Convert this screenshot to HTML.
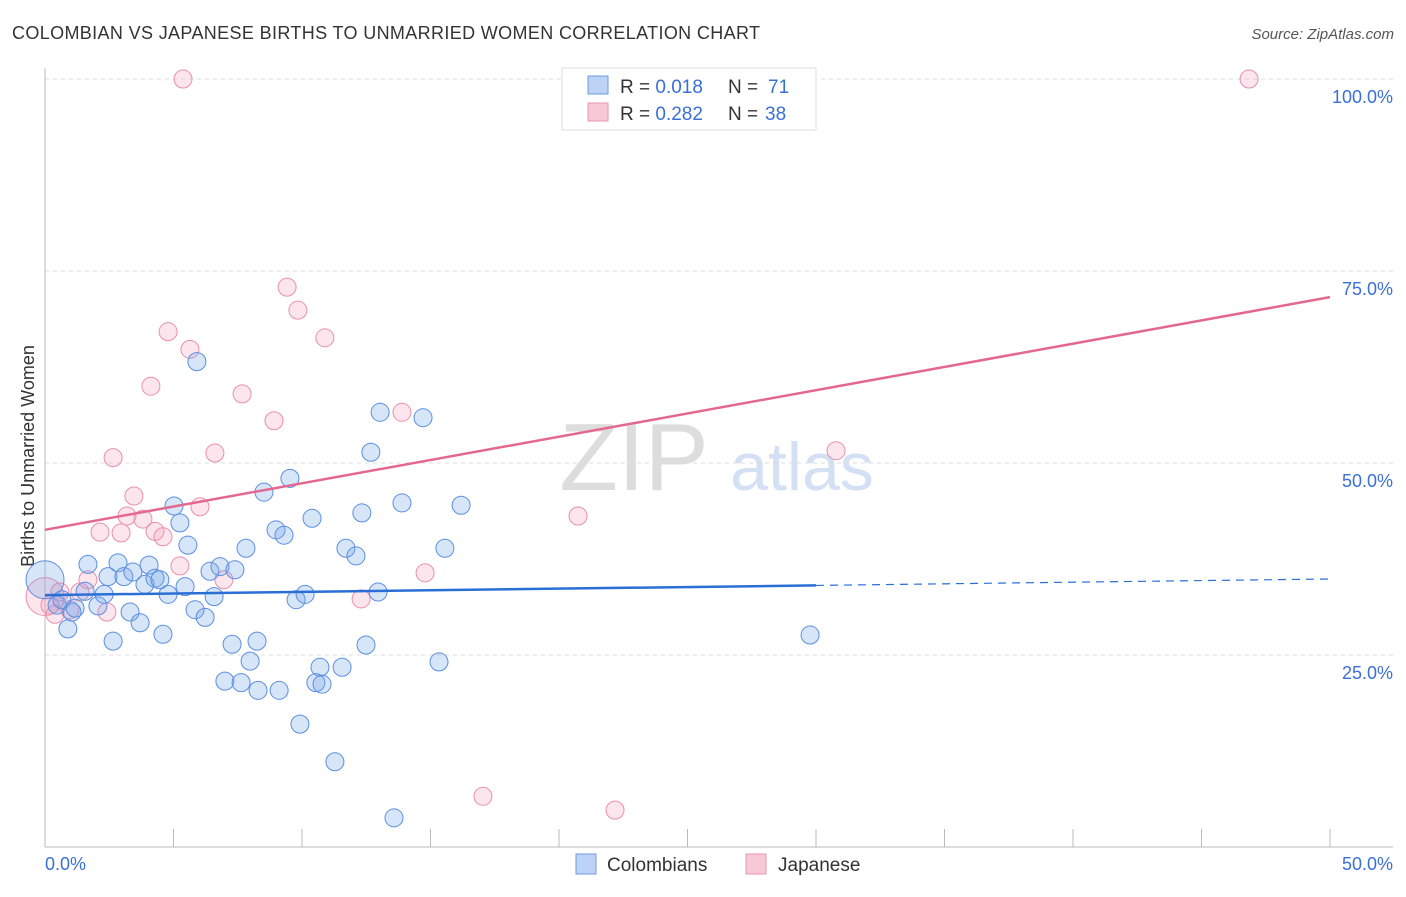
<!DOCTYPE html>
<html><head><meta charset="utf-8"><style>
body{margin:0;background:#fff;font-family:"Liberation Sans",sans-serif;}
svg text{font-family:"Liberation Sans",sans-serif;}
</style></head><body>
<svg width="1406" height="892" id="chart">
<text x="12" y="39" font-size="18" fill="#333" textLength="748">COLOMBIAN VS JAPANESE BIRTHS TO UNMARRIED WOMEN CORRELATION CHART</text>
<text x="1394" y="39" font-size="15" fill="#555" font-style="italic" text-anchor="end">Source: ZipAtlas.com</text>
<text x="634" y="490" font-size="96" fill="#ddd" font-family="Liberation Serif" text-anchor="middle">ZIP</text>
<text x="802" y="490" font-size="68" fill="#d4e0f4" text-anchor="middle">atlas</text>
<text transform="translate(34,456) rotate(-90)" font-size="18" fill="#333" text-anchor="middle">Births to Unmarried Women</text>
<g id="grid"></g><g id="marks"></g>
<g>
<rect x="562" y="68" width="254" height="62" fill="#fff" stroke="#ddd"/>
<rect x="588" y="76" width="20" height="18" fill="#bcd3f5" stroke="#6d9be0"/>
<rect x="588" y="103" width="20" height="18" fill="#f9c8d6" stroke="#eb94b0"/>
<text x="620" y="93" font-size="19" fill="#333">R = <tspan fill="#3a6fd8">0.018</tspan><tspan x="728">N = </tspan><tspan x="768" fill="#3a6fd8">71</tspan></text>
<text x="620" y="120" font-size="19" fill="#333">R = <tspan fill="#3a6fd8">0.282</tspan><tspan x="728">N = </tspan><tspan x="765" fill="#3a6fd8">38</tspan></text>
</g>
<g>
<rect x="576" y="854" width="20" height="20" fill="#bcd3f5" stroke="#6d9be0"/>
<text x="607" y="871" font-size="19" fill="#333">Colombians</text>
<rect x="746" y="854" width="20" height="20" fill="#f9c8d6" stroke="#eb94b0"/>
<text x="778" y="871" font-size="19" fill="#333">Japanese</text>
</g>
</svg>
<script>
const yTicks=[25,50,75,100];
const yTickLabels=["25.0%","50.0%","75.0%","100.0%"];
const xTicks=[0,5,10,15,20,25,30,35,40,45,50];
const blueX=[0,0.47,0.66,0.89,1.05,1.17,1.56,1.67,2.06,2.30,2.45,2.65,2.84,3.07,3.31,3.42,3.70,3.89,4.05,4.28,4.47,4.59,4.79,5.02,5.25,5.45,5.56,5.84,5.91,6.23,6.42,6.58,6.81,7.00,7.28,7.39,7.63,7.82,7.98,8.25,8.29,8.52,8.99,9.11,9.30,9.53,9.77,9.92,10.12,10.39,10.70,10.54,10.78,11.28,11.56,11.71,12.10,12.33,12.49,12.68,12.96,13.04,13.58,13.89,14.71,15.33,15.56,16.19,29.77];
const blueY=[34.8,31.5,32.2,28.4,30.6,31.1,33.3,36.8,31.4,32.9,35.2,26.8,37.0,35.2,30.6,35.8,29.2,34.2,36.7,35.0,34.8,27.7,32.9,44.4,42.2,33.9,39.3,30.9,63.2,29.9,35.9,32.6,36.5,21.6,26.4,36.1,21.4,38.9,24.2,26.8,20.4,46.2,41.3,20.4,40.6,48.0,32.2,16.0,32.9,42.8,23.4,21.4,21.2,11.1,23.4,38.9,37.9,43.5,26.3,51.4,33.2,56.6,3.8,44.8,55.9,24.1,38.9,44.5,27.6];
const pinkX=[0,0.19,0.39,0.58,0.97,1.36,1.67,2.14,2.41,2.65,2.96,3.19,3.46,3.81,4.12,4.28,4.59,4.79,5.25,5.37,5.64,6.03,6.61,6.96,7.67,8.91,9.42,9.84,10.89,12.30,13.89,14.79,17.04,20.74,22.18,30.78,46.85];
const pinkY=[32.6,31.5,30.3,33.2,30.9,33.2,34.8,41.0,30.6,50.7,40.9,43.1,45.7,42.7,60.0,41.1,40.4,67.1,36.6,100,64.8,44.3,51.3,34.8,59.0,55.5,72.9,69.9,66.3,32.3,56.6,35.7,6.6,43.1,4.8,51.6,100];
const blueTrend=[32.8,34.9];
const pinkTrend=[41.3,71.6];
const X0=45,X1=1330,Y0=847,Y100=79;
const sx=v=>X0+(X1-X0)*v/50;
const sy=v=>Y0-(Y0-Y100)*v/100;
const NS="http://www.w3.org/2000/svg";
function mk(t,a,p){const e=document.createElementNS(NS,t);for(const k in a)e.setAttribute(k,a[k]);p.appendChild(e);return e;}
const grid=document.getElementById('grid'),marks=document.getElementById('marks');
yTicks.forEach((t,i)=>{
 const l=mk('line',{x1:X0,x2:1393,y1:sy(t),y2:sy(t),stroke:'#ddd','stroke-dasharray':'4,4'},grid);
 
 
 const tx=mk('text',{x:1393,y:sy(t)+24,'font-size':18,fill:'#3a6fd8','text-anchor':'end'},grid);
 tx.textContent=yTickLabels[i];
 
 
});
const ax=mk('line',{x1:X0,x2:X0,y1:68,y2:Y0,stroke:'#bbb'},grid);


const bx=mk('line',{x1:X0,x2:1393,y1:Y0,y2:Y0,stroke:'#bbb'},grid);


xTicks.forEach(t=>{const l=mk('line',{x1:sx(t),x2:sx(t),y1:829,y2:Y0,stroke:'#bbb'},grid);
 
 });
[["0.0%",X0,'start'],["50.0%",1393,'end']].forEach(a=>{const t=mk('text',{x:a[1],y:870,'font-size':18,fill:'#3a6fd8','text-anchor':a[2]},grid);t.textContent=a[0];
 
 });
function dots(xs,ys,fill,stroke,name){xs.forEach((x,i)=>{const r=(x===0&&i===0)?19:9;
 const c=mk('circle',{cx:sx(x),cy:sy(ys[i]),r:r,fill:fill,stroke:stroke,'stroke-width':1},marks);
 
 });}
dots(pinkX,pinkY,'rgba(245,160,190,0.28)','#ea8fae','japanese-point');
dots(blueX,blueY,'rgba(110,160,235,0.28)','#5b8fe0','colombian-point');
const bt=v=>blueTrend[0]+(blueTrend[1]-blueTrend[0])*v/50;
const b1=mk('line',{x1:sx(0),y1:sy(bt(0)),x2:sx(30),y2:sy(bt(30)),stroke:'#2a6fd6','stroke-width':2.5},marks);


const b2=mk('line',{x1:sx(30),y1:sy(bt(30)),x2:sx(50),y2:sy(bt(50)),stroke:'#2a6fd6','stroke-width':1.2,'stroke-dasharray':'8,6'},marks);


const p1=mk('line',{x1:sx(0),y1:sy(pinkTrend[0]),x2:sx(50),y2:sy(pinkTrend[1]),stroke:'#e4678f','stroke-width':2.5},marks);


</script>
</body></html>
